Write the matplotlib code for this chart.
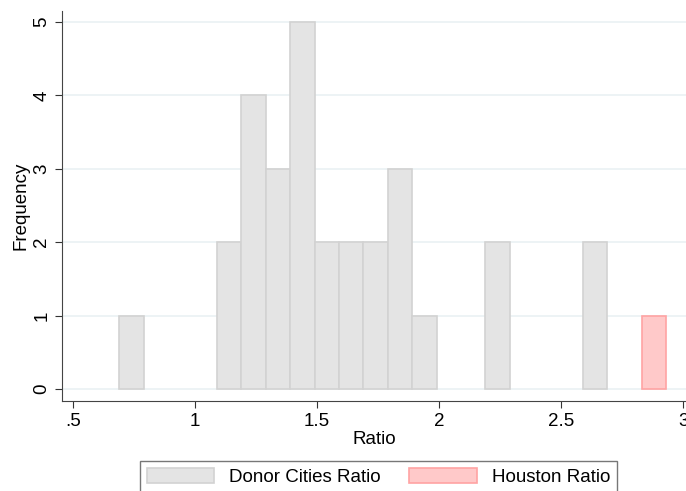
import numpy as np
import matplotlib
matplotlib.use("Agg")
import matplotlib.pyplot as plt

# Histogram bins (left edge, count), bin width ~0.1
bin_width = 0.0997
donor_edges = [0.69, 1.09, 1.19, 1.29, 1.39, 1.49, 1.59, 1.69, 1.79, 1.89, 2.19, 2.59]
donor_counts = [1, 2, 4, 3, 5, 2, 2, 2, 3, 1, 2, 2]
houston_edges = [2.83]
houston_counts = [1]

x_ticks = [0.5, 1, 1.5, 2, 2.5, 3]
x_tick_labels = [".5", "1", "1.5", "2", "2.5", "3"]
y_ticks = [0, 1, 2, 3, 4, 5]

plt.rcParams['font.family'] = ['Liberation Sans', 'DejaVu Sans']
fs = 13.5

fig = plt.figure(figsize=(6.86, 4.91), dpi=100)
ax = fig.add_axes([0.0904, 0.1833, 0.9096, 0.7943])

ax.bar(donor_edges, donor_counts, width=bin_width, align='edge',
       color='#e4e4e4', edgecolor='#d2d2d2', linewidth=1.2, zorder=2,
       label='Donor Cities Ratio')
ax.bar(houston_edges, houston_counts, width=bin_width, align='edge',
       color='#ffc9c9', edgecolor='#ffa3a3', linewidth=1.2, zorder=2,
       label='Houston Ratio')

ax.set_xlim(0.455, 3.012)
ax.set_ylim(-0.163, 5.15)
ax.set_xticks(x_ticks)
ax.set_xticklabels(x_tick_labels)
ax.set_yticks(y_ticks)
ax.tick_params(axis='y', labelrotation=90, labelsize=fs, length=5, color='#333333')
ax.tick_params(axis='x', labelsize=fs, length=5, color='#333333')
for lbl in ax.get_yticklabels():
    lbl.set_va('center')

ax.yaxis.grid(True, color='#eaf1f3', linewidth=1.2, zorder=0)
ax.set_axisbelow(True)
for side in ['top', 'right']:
    ax.spines[side].set_visible(False)
for side in ['left', 'bottom']:
    ax.spines[side].set_color('#444444')

ax.set_xlabel('Ratio', fontsize=fs, labelpad=1)
ax.set_ylabel('Frequency', fontsize=fs, labelpad=3)

leg = fig.legend(loc='upper center', bbox_to_anchor=(0.5518, 0.0611), ncol=2,
                 fontsize=fs, handlelength=3.6, handleheight=0.9,
                 handletextpad=0.8, columnspacing=1.5, fancybox=False,
                 edgecolor='#555555', borderpad=0.35, borderaxespad=0)
leg.get_frame().set_linewidth(1.0)

fig.savefig('out.png', dpi=100)
